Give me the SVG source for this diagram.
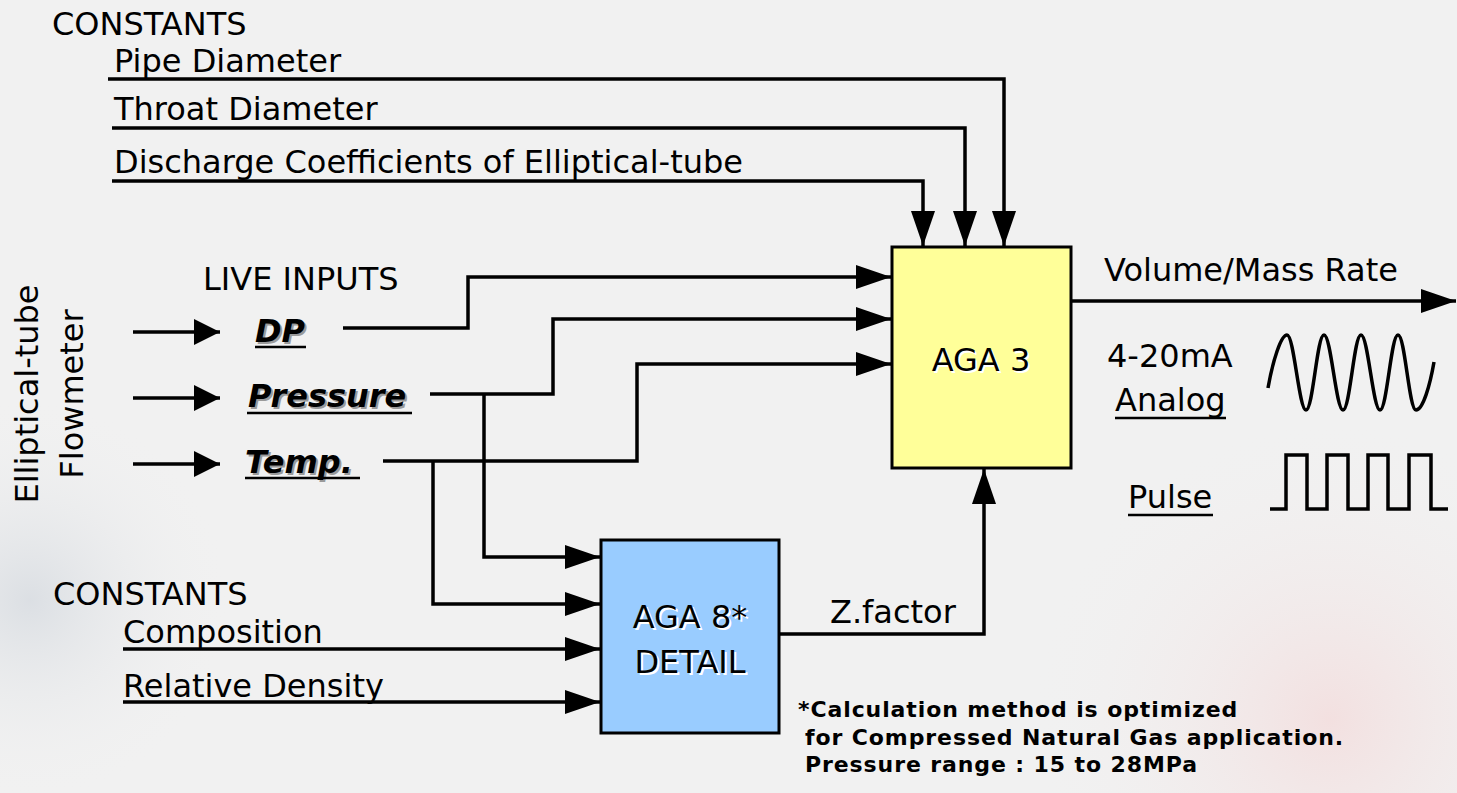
<svg xmlns="http://www.w3.org/2000/svg" width="1457" height="793" viewBox="0 0 1457 793">
  <defs>
    <radialGradient id="pink" cx="1330" cy="720" r="300" gradientUnits="userSpaceOnUse">
      <stop offset="0" stop-color="#f3dede" stop-opacity="0.9"/>
      <stop offset="1" stop-color="#f1f1f1" stop-opacity="0"/>
    </radialGradient>
    <radialGradient id="grey" cx="30" cy="600" r="200" gradientUnits="userSpaceOnUse">
      <stop offset="0" stop-color="#d9dde2" stop-opacity="0.9"/>
      <stop offset="1" stop-color="#f1f1f1" stop-opacity="0"/>
    </radialGradient>
    <marker id="ah" viewBox="0 0 35 24" refX="35" refY="12" markerWidth="35" markerHeight="24" markerUnits="userSpaceOnUse" orient="auto">
      <path d="M0 0 L35 12 L0 24 Z" fill="#000"/>
    </marker>
    <marker id="ahs" viewBox="0 0 26 26" refX="26" refY="13" markerWidth="26" markerHeight="26" markerUnits="userSpaceOnUse" orient="auto">
      <path d="M0 0 L26 13 L0 26 Z" fill="#000"/>
    </marker>
  </defs>
  <style>
    .t { font-family: "DejaVu Sans", Verdana, sans-serif; font-size: 32px; fill: #000; }
    .c { text-anchor: middle; }
    .bi { font-weight: bold; font-style: italic; }
    .sh { fill: #9a9a9a; }
    .wsh { fill: #ffffff; }
    .note { font-family: "DejaVu Sans", Verdana, sans-serif; font-size: 22px; font-weight: bold; letter-spacing: 0.9px; fill: #000; }
    .conn { fill: none; stroke: #000; stroke-width: 3.5; }
    .ul { stroke: #000; stroke-width: 2.5; }
    .box { stroke: #000; stroke-width: 3; }
    .wave { fill: none; stroke: #000; stroke-width: 3.5; stroke-linejoin: miter; }
  </style>

  <rect width="1457" height="793" fill="#f1f1f1"/>
  <rect width="1457" height="793" fill="url(#pink)"/>
  <rect width="1457" height="793" fill="url(#grey)"/>

  <g id="connectors">
    <path class="conn" d="M108 79 H1004 V246" marker-end="url(#ah)"/>
    <path class="conn" d="M112 128 H965 V246" marker-end="url(#ah)"/>
    <path class="conn" d="M112 181 H923 V246" marker-end="url(#ah)"/>
    <path class="conn" d="M343 328 H468 V277 H891" marker-end="url(#ah)"/>
    <path class="conn" d="M430 394 H553 V319 H891" marker-end="url(#ah)"/>
    <path class="conn" d="M383 461 H637 V364 H891" marker-end="url(#ah)"/>
    <path class="conn" d="M484 394 V557 H600" marker-end="url(#ah)"/>
    <path class="conn" d="M433 461 V604 H600" marker-end="url(#ah)"/>
    <path class="conn" d="M123 649 H600" marker-end="url(#ah)"/>
    <path class="conn" d="M123 702 H600" marker-end="url(#ah)"/>
    <path class="conn" d="M779 634 H984 V469" marker-end="url(#ah)"/>
    <path class="conn" d="M1071 301 H1456" marker-end="url(#ah)"/>
    <path class="conn" d="M133 332 H220" marker-end="url(#ahs)"/>
    <path class="conn" d="M133 398 H220" marker-end="url(#ahs)"/>
    <path class="conn" d="M133 464 H220" marker-end="url(#ahs)"/>
  </g>

  <g id="constants-top">
    <text class="t" x="52" y="35">CONSTANTS</text>
    <text class="t" x="114" y="72">Pipe Diameter</text>
    <text class="t" x="114" y="120">Throat Diameter</text>
    <text class="t" x="114" y="173">Discharge Coefficients of Elliptical-tube</text>
  </g>

  <g id="flowmeter">
    <text class="t c" transform="translate(38 394) rotate(-90)">Elliptical-tube</text>
    <text class="t c" transform="translate(83 394) rotate(-90)">Flowmeter</text>
  </g>

  <g id="live-inputs">
    <text class="t" x="203" y="290">LIVE INPUTS</text>
    <text class="t bi sh" x="257" y="344">DP</text>
    <text class="t bi" x="255" y="342">DP</text>
    <line class="ul" x1="255" y1="347" x2="306" y2="347"/>
    <text class="t bi sh" x="250" y="409">Pressure</text>
    <text class="t bi" x="248" y="407">Pressure</text>
    <line class="ul" x1="247" y1="413" x2="412" y2="413"/>
    <text class="t bi sh" x="247" y="475">Temp.</text>
    <text class="t bi" x="245" y="473">Temp.</text>
    <line class="ul" x1="245" y1="478" x2="360" y2="478"/>
  </g>

  <g id="aga3">
    <rect class="box" x="892" y="247" width="179" height="221" fill="#ffff99"/>
    <text class="t c wsh" x="983" y="373">AGA 3</text>
    <text class="t c" x="981" y="371">AGA 3</text>
  </g>

  <g id="aga8">
    <rect class="box" x="601" y="540" width="178" height="193" fill="#99ccff"/>
    <text class="t c wsh" x="692" y="630">AGA 8*</text>
    <text class="t c" x="690" y="628">AGA 8*</text>
    <text class="t c wsh" x="692" y="675">DETAIL</text>
    <text class="t c" x="690" y="673">DETAIL</text>
  </g>

  <g id="outputs">
    <text class="t" x="1104" y="281">Volume/Mass Rate</text>
    <text class="t" x="1107" y="367">4-20mA</text>
    <text class="t" x="1115" y="411">Analog</text>
    <line class="ul" x1="1115" y1="418" x2="1226" y2="418"/>
    <text class="t" x="1128" y="508">Pulse</text>
    <line class="ul" x1="1128" y1="515" x2="1213" y2="515"/>
    <path class="wave" d="M1268 388 C1273 360 1281 335 1287 335 C1294 335 1299 410 1306 410 C1313 410 1317 335 1324 335 C1331 335 1336 410 1343 410 C1350 410 1354 335 1361 335 C1368 335 1373 410 1380 410 C1387 410 1391 335 1398 335 C1405 335 1409 410 1416 410 C1423 410 1430 385 1434 362"/>
    <path class="wave" d="M1270 509 H1286 V455 H1307 V509 H1327 V455 H1348 V509 H1368 V455 H1388 V509 H1409 V455 H1431 V509 H1448"/>
  </g>

  <g id="constants-bottom">
    <text class="t" x="53" y="605">CONSTANTS</text>
    <text class="t" x="123" y="643">Composition</text>
    <text class="t" x="123" y="697">Relative Density</text>
  </g>

  <g id="zfactor">
    <text class="t" x="830" y="623">Z.factor</text>
  </g>

  <g id="footnote">
    <text class="note" x="798" y="717">*Calculation method is optimized</text>
    <text class="note" x="805" y="745">for Compressed Natural Gas application.</text>
    <text class="note" x="805" y="772">Pressure range : 15 to 28MPa</text>
  </g>
</svg>
